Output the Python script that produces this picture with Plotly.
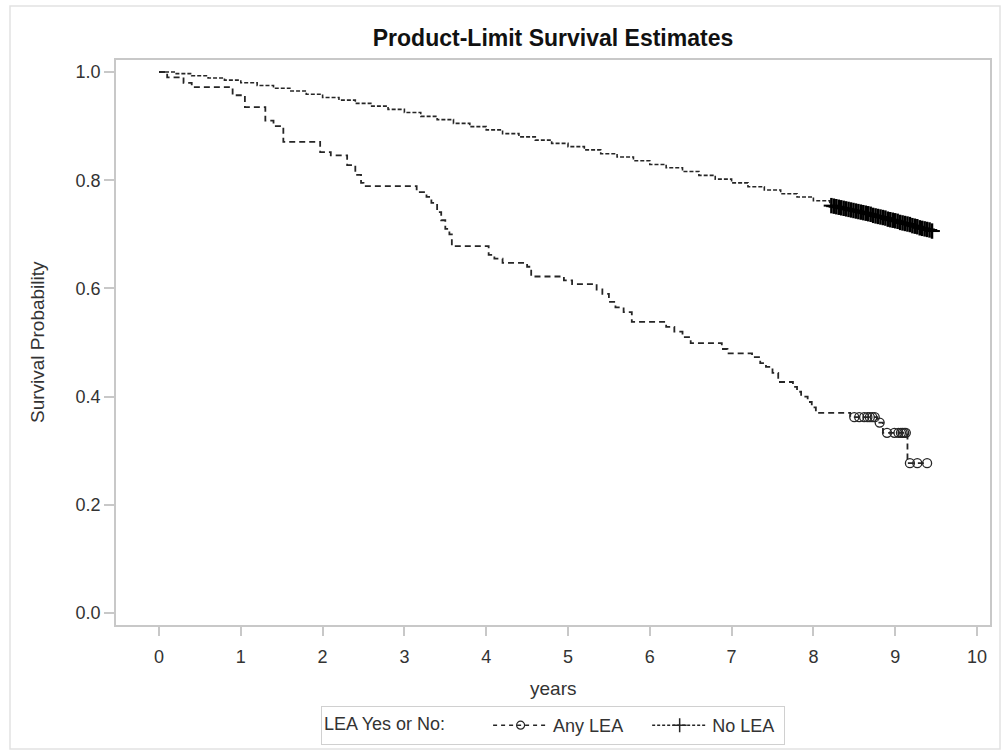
import plotly.graph_objects as go

# ---------------- data ----------------
any_times = [0, 0.1, 0.3, 0.4, 0.9, 1.05, 1.3, 1.4, 1.52, 1.97, 2.1, 2.3, 2.4, 2.47, 2.5,
             3.15, 3.27, 3.33, 3.4, 3.45, 3.5, 3.55, 3.58, 4.03, 4.1, 4.2, 4.5, 4.55, 4.95,
             5.05, 5.35, 5.42, 5.5, 5.58, 5.68, 5.78, 6.2, 6.3, 6.4, 6.5, 6.88, 6.95, 7.25,
             7.35, 7.42, 7.5, 7.57, 7.75, 7.8, 7.85, 7.93, 7.98, 8.03, 8.45, 8.78, 8.85, 9.15]
any_surv = [1.0, 0.99, 0.98, 0.972, 0.957, 0.935, 0.91, 0.90, 0.871, 0.852, 0.846, 0.828, 0.81,
            0.795, 0.789, 0.778, 0.769, 0.758, 0.741, 0.726, 0.71, 0.70, 0.678, 0.662, 0.655,
            0.647, 0.64, 0.622, 0.615, 0.608, 0.598, 0.59, 0.575, 0.565, 0.556, 0.538, 0.529,
            0.52, 0.51, 0.499, 0.488, 0.48, 0.473, 0.462, 0.455, 0.444, 0.427, 0.418, 0.409,
            0.40, 0.39, 0.38, 0.37, 0.362, 0.352, 0.333, 0.277]
any_cens_times = [8.5, 8.56, 8.62, 8.66, 8.69, 8.72, 8.75, 8.81, 8.9, 8.99, 9.04, 9.07,
                  9.09, 9.11, 9.13, 9.18, 9.27, 9.39]
any_cens_surv = [0.362, 0.362, 0.362, 0.362, 0.362, 0.362, 0.362, 0.352, 0.333, 0.333, 0.333,
                 0.333, 0.333, 0.333, 0.333, 0.277, 0.277, 0.277]

no_times = [0.0, 0.2, 0.4, 0.6, 0.8, 1.0, 1.2, 1.4, 1.6, 1.8, 2.0, 2.2, 2.4, 2.6, 2.8, 3.0,
            3.2, 3.4, 3.6, 3.8, 4.0, 4.2, 4.4, 4.6, 4.8, 5.0, 5.2, 5.4, 5.6, 5.8, 6.0, 6.2,
            6.4, 6.6, 6.8, 7.0, 7.2, 7.4, 7.6, 7.8, 8.0, 8.2]
no_surv = [1.000, 0.997, 0.993, 0.989, 0.985, 0.980, 0.975, 0.970, 0.965, 0.959, 0.953, 0.948,
           0.942, 0.937, 0.931, 0.925, 0.918, 0.912, 0.905, 0.899, 0.893, 0.886, 0.880, 0.874,
           0.868, 0.862, 0.856, 0.849, 0.843, 0.836, 0.829, 0.823, 0.816, 0.809, 0.802, 0.795,
           0.788, 0.782, 0.775, 0.769, 0.762, 0.755]
no_cens_times = [8.22, 8.25, 8.28, 8.31, 8.34, 8.37, 8.40, 8.43, 8.46, 8.49, 8.52, 8.55, 8.58,
                 8.61, 8.64, 8.67, 8.70, 8.73, 8.76, 8.79, 8.82, 8.85, 8.88, 8.91, 8.94, 8.97,
                 9.00, 9.03, 9.06, 9.09, 9.12, 9.15, 9.18, 9.21, 9.24, 9.27, 9.30, 9.33, 9.36,
                 9.39, 9.42, 9.45]
no_cens_surv = [0.753, 0.752, 0.751, 0.750, 0.749, 0.748, 0.747, 0.746, 0.745, 0.744, 0.743,
                0.742, 0.741, 0.740, 0.739, 0.738, 0.737, 0.735, 0.734, 0.733, 0.732, 0.731,
                0.730, 0.728, 0.727, 0.726, 0.725, 0.724, 0.722, 0.721, 0.720, 0.719, 0.718,
                0.716, 0.715, 0.714, 0.712, 0.711, 0.710, 0.709, 0.708, 0.706]
no_last_time = 9.55

x_ticks = [0, 1, 2, 3, 4, 5, 6, 7, 8, 9, 10]
y_ticks = [0.0, 0.2, 0.4, 0.6, 0.8, 1.0]
y_tick_labels = ["0.0", "0.2", "0.4", "0.6", "0.8", "1.0"]

title_text = "Product-Limit Survival Estimates"
x_title = "years"
y_title = "Survival Probability"
legend_title = "LEA Yes or No:"
group_names = ["Any LEA", "No LEA"]

# ---------------- figure ----------------
FONT = "Liberation Sans, Arial, sans-serif"
INK = "#262626"
TXT = "#333333"
GRID = "#c8c8c8"

fig = go.Figure()

# Any LEA step curve
any_line_x = any_times + [any_cens_times[-1]]
any_line_y = any_surv + [any_surv[-1]]
fig.add_trace(go.Scatter(x=any_line_x, y=any_line_y, mode="lines", line_shape="hv",
                         line=dict(color=INK, width=1.8, dash="6px,4px"),
                         showlegend=False, hoverinfo="skip"))
fig.add_trace(go.Scatter(x=any_cens_times, y=any_cens_surv, mode="markers",
                         marker=dict(symbol="circle-open", size=9, color=INK,
                                     line=dict(width=1.3, color=INK)),
                         showlegend=False))

# No LEA step curve
no_line_x = no_times + no_cens_times + [no_last_time]
no_line_y = no_surv + no_cens_surv + [no_cens_surv[-1]]
fig.add_trace(go.Scatter(x=no_line_x, y=no_line_y, mode="lines", line_shape="hv",
                         line=dict(color=INK, width=1.6, dash="4px,2px"),
                         showlegend=False, hoverinfo="skip"))
fig.add_trace(go.Scatter(x=no_cens_times, y=no_cens_surv, mode="markers",
                         marker=dict(symbol="line-ns-open", size=11, color="#000",
                                     line=dict(width=2.5, color="#000")),
                         showlegend=False))
fig.add_trace(go.Scatter(x=no_cens_times, y=no_cens_surv, mode="markers",
                         marker=dict(symbol="line-ew-open", size=11, color="#000",
                                     line=dict(width=2, color="#000")),
                         showlegend=False))

# legend entries
fig.add_trace(go.Scatter(x=[None], y=[None], mode="lines+markers", name=group_names[0] + "    ",
                         line=dict(color=INK, width=1.5, dash="4px,4px"),
                         marker=dict(symbol="circle-open", size=8, color=INK,
                                     line=dict(width=1.2, color=INK))))
fig.add_trace(go.Scatter(x=[None], y=[None], mode="lines+markers", name=group_names[1] + " ",
                         line=dict(color=INK, width=1.5, dash="3px,2px"),
                         marker=dict(symbol="cross-thin-open", size=10, color=INK,
                                     line=dict(width=1.5, color=INK))))

W, H = 1005, 751
L, R, T, B = 116, 990, 60, 625


def px_x(p):
    return (p - L) / (R - L)


def px_y(p):
    return (B - p) / (B - T)


fig.update_layout(
    width=W, height=H,
    margin=dict(l=L, r=W - R, t=T, b=H - B, pad=0, autoexpand=False),
    paper_bgcolor="white", plot_bgcolor="white",
    font=dict(family=FONT, color=TXT, size=18),
    title=dict(text="<b>" + title_text + "</b>", x=0.5, xref="paper", xanchor="center",
               y=1 - 38 / H, yref="container", yanchor="middle",
               font=dict(size=23, color="#111", family=FONT)),
    xaxis=dict(range=[(L - 159) / 81.8, (R - 159) / 81.8], tickmode="array",
               tickvals=x_ticks, ticktext=[str(v) for v in x_ticks],
               ticks="outside", ticklen=9, tickwidth=1.5, tickcolor=GRID,
               ticklabelstandoff=6, automargin=False,
               showline=True, linecolor=GRID, linewidth=1.5, mirror=True,
               showgrid=False, zeroline=False,
               tickfont=dict(size=18, color=TXT)),
    yaxis=dict(range=[-12 / 541, 1 + 12 / 541], tickmode="array",
               tickvals=y_ticks, ticktext=y_tick_labels,
               ticks="outside", ticklen=10, tickwidth=1.5, tickcolor=GRID,
               automargin=False,
               showline=True, linecolor=GRID, linewidth=1.5, mirror=True,
               showgrid=False, zeroline=False,
               tickfont=dict(size=18, color=TXT)),
    legend=dict(orientation="h", x=0.5, xanchor="center", y=px_y(706), yanchor="top",
                bordercolor="#d0d0d0", borderwidth=1, bgcolor="white",
                title=dict(text=legend_title + "       ", side="left",
                           font=dict(size=18, color=TXT)),
                font=dict(size=18, color=TXT), itemwidth=55,
                tracegroupgap=0),
    annotations=[
        dict(text=x_title, xref="paper", yref="paper", x=0.5, y=px_y(688),
             xanchor="center", yanchor="middle", showarrow=False,
             font=dict(size=19, color=TXT)),
        dict(text=y_title, xref="paper", yref="paper", x=px_x(37), y=px_y(342),
             xanchor="center", yanchor="middle", showarrow=False, textangle=-90,
             font=dict(size=19, color=TXT)),
    ],
    shapes=[
        dict(type="rect", xref="paper", yref="paper",
             x0=px_x(10), x1=px_x(1000), y0=px_y(749), y1=px_y(6),
             line=dict(color="#e2e2e2", width=1.5), layer="below"),
    ],
)

fig.write_html("out.html", config={"displayModeBar": False},
               post_script="document.body.style.margin='0';")
